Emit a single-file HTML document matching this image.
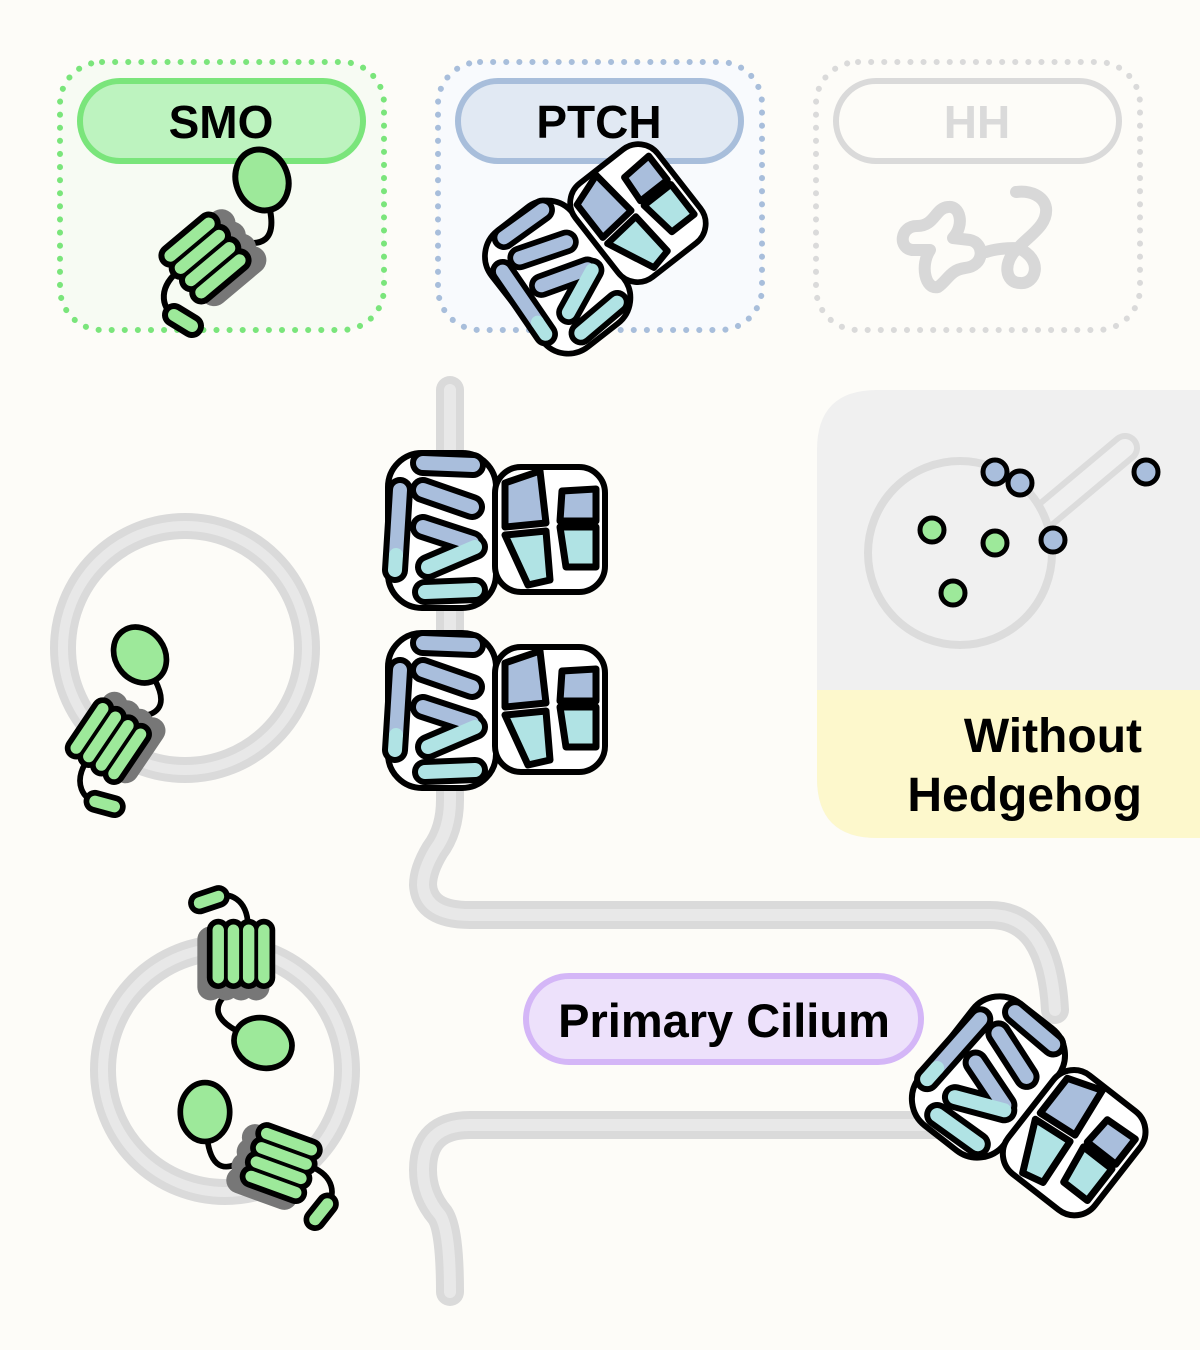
<!DOCTYPE html>
<html><head><meta charset="utf-8"><style>
html,body{margin:0;padding:0;background:#fdfcf8;}
svg{display:block}
text{font-family:"Liberation Sans",Arial,sans-serif;font-weight:bold}
</style></head><body>
<svg width="1200" height="1350" viewBox="0 0 1200 1350" xmlns="http://www.w3.org/2000/svg">
<defs>
<g id="ptch" stroke-linecap="round" stroke-linejoin="round">
  <rect x="80" y="25" width="38" height="122" rx="16" fill="#777"/>
  <rect x="8" y="8" width="108" height="155" rx="34" fill="#fff" stroke="#000" stroke-width="6"/>
  <rect x="115" y="22" width="110" height="125" rx="26" fill="#fff" stroke="#000" stroke-width="6"/>
  <g stroke="#000" stroke-width="26">
    <line x1="43" y1="18" x2="93" y2="20"/>
    <line x1="43" y1="45" x2="92" y2="62"/>
    <line x1="43" y1="82" x2="92" y2="98"/>
    <line x1="48" y1="122" x2="95" y2="102"/>
    <line x1="45" y1="147" x2="95" y2="145"/>
    <line x1="20" y1="45" x2="15" y2="125"/>
  </g>
  <g stroke-width="14">
    <line x1="43" y1="18" x2="93" y2="20" stroke="#a9bedc"/>
    <line x1="43" y1="45" x2="92" y2="62" stroke="#a9bedc"/>
    <line x1="43" y1="82" x2="92" y2="98" stroke="#a9bedc"/>
    <line x1="48" y1="122" x2="95" y2="102" stroke="#b0e3e4"/>
    <line x1="45" y1="147" x2="95" y2="145" stroke="#b0e3e4"/>
    <line x1="20" y1="45" x2="16" y2="110" stroke="#a9bedc"/>
    <line x1="16" y1="110" x2="15" y2="125" stroke="#b0e3e4"/>
  </g>
  <g stroke="#000" stroke-width="7">
    <polygon points="125,38 160,26 166,78 125,82" fill="#a9bedc"/>
    <polygon points="125,90 166,86 170,135 148,140" fill="#b0e3e4"/>
    <polygon points="182,46 216,44 216,76 180,76" fill="#a9bedc"/>
    <polygon points="180,82 216,82 216,122 186,122" fill="#b0e3e4"/>
  </g>
</g>
<g id="smo" stroke-linecap="round" stroke-linejoin="round">
  <path d="M8 30 C14 60 0 68 -25 60 C-45 55 -60 62 -72 72" fill="none" stroke="#000" stroke-width="6"/>
  <path d="M-85 92 C-105 110 -100 130 -85 138" fill="none" stroke="#000" stroke-width="6"/>
  <g transform="translate(-57,78) rotate(-40)">
    <g stroke="#777" stroke-width="28" transform="translate(10,8)">
      <line x1="-25" y1="-24" x2="25" y2="-24"/><line x1="-25" y1="-8" x2="25" y2="-8"/>
      <line x1="-25" y1="8" x2="25" y2="8"/><line x1="-25" y1="24" x2="25" y2="24"/>
    </g>
    <g stroke="#000" stroke-width="24">
      <line x1="-25" y1="-24" x2="25" y2="-24"/><line x1="-25" y1="-8" x2="25" y2="-8"/>
      <line x1="-25" y1="8" x2="25" y2="8"/><line x1="-25" y1="24" x2="25" y2="24"/>
    </g>
    <g stroke="#9de99a" stroke-width="12">
      <line x1="-25" y1="-24" x2="25" y2="-24"/><line x1="-25" y1="-8" x2="25" y2="-8"/>
      <line x1="-25" y1="8" x2="25" y2="8"/><line x1="-25" y1="24" x2="25" y2="24"/>
    </g>
  </g>
  <line x1="-88" y1="135" x2="-70" y2="146" stroke="#000" stroke-width="24"/>
  <line x1="-88" y1="135" x2="-70" y2="146" stroke="#9de99a" stroke-width="12"/>
  <ellipse cx="0" cy="0" rx="26" ry="31" transform="rotate(-20)" fill="#9de99a" stroke="#000" stroke-width="6"/>
</g>
</defs>

<!-- cards -->
<rect x="60" y="62" width="324" height="268" rx="42" fill="#f7fbf3" stroke="#7ae57b" stroke-width="6" stroke-dasharray="0.1 13" stroke-linecap="round"/>
<rect x="80" y="81" width="283" height="80" rx="40" fill="#bdf3bf" stroke="#7ae57b" stroke-width="6"/>
<text x="221" y="138" font-size="46" text-anchor="middle" fill="#000">SMO</text>

<rect x="438" y="62" width="324" height="268" rx="42" fill="#f8fafd" stroke="#a8bedb" stroke-width="6" stroke-dasharray="0.1 13" stroke-linecap="round"/>
<rect x="458" y="81" width="283" height="80" rx="40" fill="#e1e9f3" stroke="#a8bedb" stroke-width="6"/>
<text x="599" y="138" font-size="46" text-anchor="middle" fill="#000">PTCH</text>

<rect x="816" y="62" width="324" height="268" rx="42" fill="#fdfcf8" stroke="#dadada" stroke-width="6" stroke-dasharray="0.1 13" stroke-linecap="round"/>
<rect x="836" y="81" width="283" height="80" rx="40" fill="#fdfcf8" stroke="#dadada" stroke-width="6"/>
<text x="977" y="138" font-size="46" text-anchor="middle" fill="#dadada">HH</text>
<g fill="none" stroke="#d8d8d8" stroke-width="12" stroke-linecap="round" stroke-linejoin="round">
  <path d="M917 226 C900 226 898 248 912 250 L930 250 C920 265 925 290 938 287 C948 280 950 270 965 268 C985 266 985 243 970 240 L953 238 C965 225 960 205 948 207 C935 208 935 226 917 226 Z"/>
  <path d="M986 252 C995 249 1005 248 1018 248 M1018 248 C1045 260 1035 285 1020 283 C1005 283 1002 262 1018 248 C1030 235 1048 225 1046 208 C1044 196 1030 190 1016 192"/>
</g>

<!-- without hedgehog panel -->
<path d="M877 390 H1200 V838 H877 Q817 838 817 778 V450 Q817 390 877 390 Z" fill="#f0f0f0"/>
<path d="M817 690 H1200 V838 H877 Q817 838 817 778 Z" fill="#fdf8cc"/>
<text x="1142" y="752" font-size="48" text-anchor="end" fill="#000">Without</text>
<text x="1142" y="811" font-size="48" text-anchor="end" fill="#000">Hedgehog</text>
<line x1="1045" y1="515" x2="1125" y2="448" stroke="#dcdcdc" stroke-width="30" stroke-linecap="round"/>
<line x1="1045" y1="515" x2="1125" y2="448" stroke="#f0f0f0" stroke-width="18" stroke-linecap="round"/>
<circle cx="960" cy="553" r="92" fill="#f0f0f0" stroke="#dcdcdc" stroke-width="8"/>
<g stroke="#000" stroke-width="5">
  <circle cx="995" cy="472" r="12" fill="#a9bedc"/><circle cx="1020" cy="483" r="12" fill="#a9bedc"/>
  <circle cx="1146" cy="472" r="12" fill="#a9bedc"/><circle cx="1053" cy="540" r="12" fill="#a9bedc"/>
  <circle cx="932" cy="530" r="12" fill="#9de99a"/><circle cx="995" cy="543" r="12" fill="#9de99a"/>
  <circle cx="953" cy="593" r="12" fill="#9de99a"/>
</g>

<!-- cilium membranes -->
<g fill="none" stroke-linecap="round" stroke-linejoin="round">
  <path d="M450 390 V800 Q450 830 435 850 Q423 870 423 885 Q425 915 470 915 H990 Q1050 915 1055 1010 M950 1125 H470 Q423 1125 423 1170 Q423 1195 440 1215 Q450 1230 450 1292" stroke="#dadada" stroke-width="28"/>
  <path d="M450 390 V800 Q450 830 435 850 Q423 870 423 885 Q425 915 470 915 H990 Q1050 915 1055 1010 M950 1125 H470 Q423 1125 423 1170 Q423 1195 440 1215 Q450 1230 450 1292" stroke="#e8e8e8" stroke-width="12"/>
  <circle cx="185" cy="648" r="122" stroke="#dadada" stroke-width="26"/>
  <circle cx="185" cy="648" r="122" stroke="#e8e8e8" stroke-width="10"/>
  <circle cx="225" cy="1070" r="122" stroke="#dadada" stroke-width="26"/>
  <circle cx="225" cy="1070" r="122" stroke="#e8e8e8" stroke-width="10"/>
</g>

<!-- primary cilium label -->
<rect x="526" y="976" width="395" height="86" rx="43" fill="#ede1fb" stroke="#d4b6f7" stroke-width="6"/>
<text x="724" y="1037" font-size="47" text-anchor="middle" fill="#000">Primary Cilium</text>

<!-- PTCH glyphs -->
<use href="#ptch" transform="translate(380,445)"/>
<use href="#ptch" transform="translate(380,625)"/>
<use href="#ptch" transform="translate(600,245) rotate(-38) translate(-112,-82) scale(0.95)"/>
<use href="#ptch" transform="translate(1030,1105) rotate(38) translate(-112,-82)"/>

<!-- SMO glyphs -->
<use href="#smo" transform="translate(262,180)"/>
<use href="#smo" transform="translate(140,655) rotate(-16) scale(0.95)"/>
<use href="#smo" transform="translate(263,1043) rotate(130) scale(0.95)"/>
<use href="#smo" transform="translate(205,1112) rotate(-20) scale(-0.95,0.95)"/>
</svg>
</body></html>
